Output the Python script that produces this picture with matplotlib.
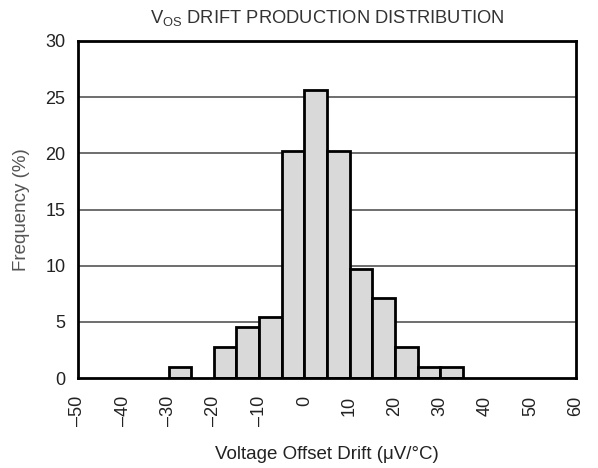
import numpy as np
from matplotlib import pyplot as plt
from matplotlib.ticker import FuncFormatter

# histogram bins (left edges, uV/C) and frequency in percent
bin_left = [-30, -20, -15, -10, -5, 0, 5, 10, 15, 20, 25, 30]
freq = [1.0, 2.8, 4.5, 5.4, 20.2, 25.6, 20.2, 9.7, 7.1, 2.8, 1.0, 1.0]
bin_width = 5

x_ticks = list(range(-50, 61, 10))
y_ticks = list(range(0, 31, 5))

plt.rcParams['font.family'] = ['Liberation Sans', 'DejaVu Sans']

fig = plt.figure(figsize=(5.98, 4.68), dpi=100)
ax = fig.add_axes([0.1304, 0.1923, 0.8328, 0.7201])

ax.bar(bin_left, freq, width=bin_width, align='edge', color='#d9d9d9',
       edgecolor='black', linewidth=2, zorder=3)

ax.set_xlim(-50, 60)
ax.set_ylim(0, 30)
ax.set_xticks(x_ticks)
ax.set_yticks(y_ticks)
ax.xaxis.set_major_formatter(FuncFormatter(lambda v, p: '{:d}'.format(int(v)).replace('-', '\u2013')))
ax.tick_params(axis='both', length=0, labelsize=13, colors='#222222')
ax.tick_params(axis='x', labelrotation=90, pad=13)
ax.tick_params(axis='y', pad=9)

for y in y_ticks[1:-1]:
    ax.axhline(y, color='#555555', linewidth=1.2, zorder=1)

for s in ax.spines.values():
    s.set_linewidth(2)
    s.set_color('black')
    s.set_zorder(4)

ax.set_title('V$_{\\mathregular{OS}}$ DRIFT PRODUCTION DISTRIBUTION', fontsize=13.2,
             color='#333333', pad=13)
ax.set_xlabel('Voltage Offset Drift (\u03bcV/\u00b0C)', fontsize=13.5, color='#222222', labelpad=14)
ax.set_ylabel('Frequency (%)', fontsize=13.5, color='#555555', labelpad=11)

fig.savefig('out.png', dpi=100)
